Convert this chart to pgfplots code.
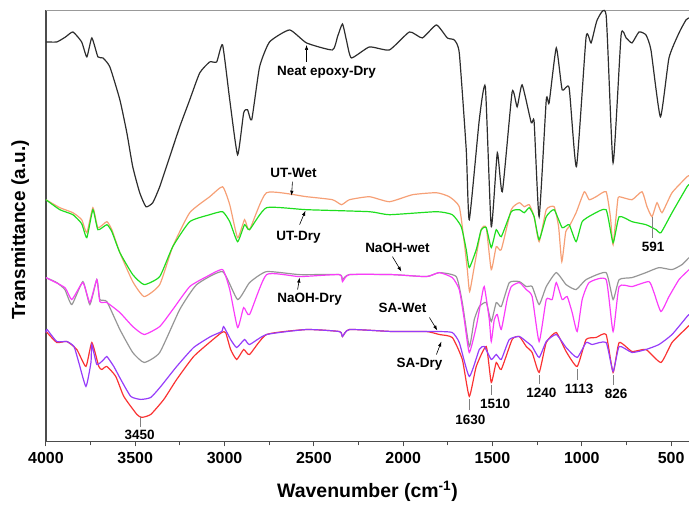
\documentclass[border=0pt]{standalone}
\usepackage{fontspec}
\setmainfont{Liberation Sans}
\usepackage{pgfplots}
\pgfplotsset{compat=1.18}
\usetikzlibrary{arrows.meta}
\definecolor{cblack}{RGB}{45,45,45}
\definecolor{corange}{RGB}{246,160,118}
\definecolor{cgreen}{RGB}{30,222,30}
\definecolor{cgray}{RGB}{150,150,150}
\definecolor{cmag}{RGB}{250,60,250}
\definecolor{cpurple}{RGB}{150,60,250}
\definecolor{cred}{RGB}{250,50,50}
\newcommand{\annot}{\fontsize{13.5}{13.5}\selectfont\bfseries}
\begin{document}
\begin{tikzpicture}[x=1pt,y=1pt]
\path[use as bounding box] (-46,-67) rectangle (644,442);
\begin{axis}[
  at={(0,0)}, anchor=south west,
  scale only axis, width=644pt, height=432pt,
  x dir=reverse, xmin=400, xmax=4000, ymin=0, ymax=432,
  xtick={500,1000,...,4000}, minor x tick num=1,
  ytick=\empty,
  axis x line*=bottom, axis y line*=left,
  axis line style={-, line width=1.3pt, draw=black!70},
  tick align=outside, major tick length=5pt, minor tick length=4pt,
  tick style={line width=1pt, black!70},
  xticklabel style={font=\fontsize{16}{16}\selectfont\bfseries, yshift=-2pt},
  /pgf/number format/set thousands separator={},
  /pgf/number format/assume math mode=true,
  xlabel={Wavenumber (cm\textsuperscript{-1})},
  xlabel style={font=\fontsize{19.5}{20}\selectfont\bfseries, at={(axis description cs:0.5,-0.116)}, anchor=center},
  ylabel={Transmittance (a.u.)},
  ylabel style={font=\fontsize{19}{20}\selectfont\bfseries, at={(axis description cs:-0.04,0.49)}, anchor=center},
  clip=false,
  every axis plot/.append style={line width=1.2pt, smooth, tension=0.3},
]
\draw[black!40, line width=0.8pt] (rel axis cs:0,1) -- (rel axis cs:1,1);
% Neat epoxy-Dry
\addplot[cblack] coordinates {(4000,400)(3939,400)(3890,405)(3849,410)(3800,400)(3771,385)(3743,404)(3709,385)(3681,384)(3642,375)(3586,342)(3547,309)(3514,275)(3475,249)(3440,235)(3402,239)(3363,255)(3307,285)(3251,315)(3195,342)(3139,369)(3083,380)(3044,380)(3011,397)(2971,342)(2927,287)(2893,329)(2871,332)(2848,322)(2804,375)(2748,400)(2636,412)(2541,399)(2396,392)(2368,405)(2340,418)(2318,402)(2290,384)(2189,395)(2077,392)(1965,410)(1893,404)(1814,417)(1753,404)(1714,402)(1686,389)(1647,292)(1630,222)(1574,322)(1540,355)(1507,215)(1473,289)(1445,250)(1390,350)(1362,335)(1334,357)(1283,319)(1267,320)(1239,225)(1199,342)(1183,339)(1143,394)(1110,352)(1071,354)(1030,275)(976,405)(948,399)(914,422)(864,427)(825,279)(780,407)(752,404)(719,399)(680,410)(641,407)(613,392)(560,325)(512,384)(456,409)(417,422)(400,424)};
% UT-Wet
\addplot[corange] coordinates {(4000,242)(3922,234)(3849,229)(3800,222)(3771,209)(3737,234)(3709,214)(3659,220)(3631,212)(3586,189)(3514,160)(3450,145)(3363,157)(3290,195)(3195,229)(3083,245)(3011,255)(2971,237)(2927,204)(2888,222)(2860,212)(2765,249)(2541,245)(2396,242)(2345,237)(2301,242)(2189,245)(2077,240)(1948,247)(1814,249)(1742,245)(1686,235)(1658,199)(1641,172)(1628,150)(1602,175)(1563,212)(1535,214)(1507,172)(1479,195)(1451,192)(1395,232)(1350,239)(1322,235)(1294,237)(1267,225)(1239,200)(1199,232)(1155,235)(1130,215)(1112,180)(1090,210)(1071,215)(1032,229)(986,250)(959,242)(920,245)(864,250)(840,225)(825,197)(800,240)(791,245)(719,242)(663,250)(635,235)(607,225)(579,239)(551,229)(495,249)(411,265)(400,266)};
% UT-Dry
\addplot[cgreen] coordinates {(4000,242)(3922,232)(3849,227)(3800,218)(3771,204)(3737,232)(3709,212)(3659,217)(3631,210)(3586,189)(3514,167)(3450,157)(3363,165)(3290,195)(3195,220)(3083,227)(3011,230)(2971,220)(2927,200)(2888,217)(2860,212)(2765,234)(2541,232)(2189,230)(2077,227)(1814,230)(1725,227)(1675,215)(1647,192)(1630,174)(1591,192)(1563,212)(1535,214)(1507,194)(1479,212)(1451,205)(1395,230)(1350,232)(1322,229)(1294,234)(1267,225)(1239,202)(1199,225)(1155,232)(1110,214)(1071,217)(1032,200)(998,220)(942,227)(864,232)(825,199)(791,225)(719,220)(641,217)(584,212)(557,209)(495,229)(411,255)(400,257)};
% NaOH-wet
\addplot[cgray] coordinates {(4000,164)(3939,159)(3894,152)(3855,137)(3793,160)(3754,137)(3715,162)(3698,142)(3659,140)(3586,112)(3514,89)(3450,79)(3363,89)(3251,132)(3156,157)(3011,170)(2927,142)(2860,159)(2765,170)(2580,167)(2357,167)(2340,162)(2301,167)(2060,167)(1870,165)(1798,169)(1703,165)(1669,139)(1630,95)(1602,122)(1574,135)(1535,139)(1507,120)(1479,139)(1451,135)(1406,159)(1350,160)(1311,155)(1278,155)(1239,137)(1199,155)(1143,169)(1088,157)(1032,152)(976,162)(864,169)(825,142)(791,162)(719,164)(641,169)(568,174)(495,172)(439,177)(411,182)(400,184)};
% NaOH-Dry
\addplot[cmag] coordinates {(4000,164)(3894,154)(3855,142)(3793,159)(3754,139)(3715,162)(3698,140)(3659,139)(3586,129)(3514,115)(3450,107)(3363,115)(3290,132)(3195,155)(3100,165)(3011,172)(2971,152)(2927,114)(2893,134)(2860,127)(2765,167)(2580,165)(2357,167)(2340,160)(2301,167)(2060,167)(1870,165)(1798,169)(1725,164)(1686,152)(1658,122)(1630,89)(1591,115)(1563,142)(1546,155)(1518,122)(1507,100)(1490,122)(1473,127)(1451,112)(1418,142)(1395,155)(1350,159)(1311,152)(1278,145)(1239,100)(1199,142)(1166,142)(1143,159)(1110,142)(1082,145)(1054,129)(1026,110)(998,142)(959,159)(864,162)(825,110)(791,155)(719,155)(624,160)(596,149)(557,130)(512,145)(456,162)(411,170)(400,172)};
% SA-Dry
\addplot[cred] coordinates {(4000,109)(3994,109)(3939,99)(3883,100)(3827,92)(3776,75)(3743,99)(3704,75)(3687,72)(3659,75)(3609,65)(3564,45)(3491,27)(3463,24)(3413,27)(3340,42)(3268,62)(3173,85)(3078,100)(3016,109)(2994,109)(2966,92)(2932,82)(2893,92)(2860,87)(2765,107)(2541,112)(2357,110)(2340,105)(2301,112)(2060,110)(1870,110)(1798,107)(1725,104)(1669,82)(1630,45)(1591,75)(1535,95)(1507,59)(1479,79)(1451,72)(1390,102)(1350,105)(1311,95)(1278,89)(1239,69)(1199,99)(1143,109)(1088,90)(1026,75)(976,102)(920,104)(864,107)(825,69)(791,99)(719,90)(641,92)(557,79)(495,99)(411,114)(400,116)};
% SA-Wet
\addplot[cpurple] coordinates {(4000,109)(3994,112)(3939,100)(3883,100)(3843,95)(3816,79)(3776,55)(3748,79)(3743,97)(3715,77)(3676,82)(3659,85)(3620,75)(3581,62)(3525,45)(3469,42)(3413,44)(3357,55)(3268,75)(3173,94)(3078,105)(3016,110)(3005,115)(2966,102)(2932,94)(2888,102)(2860,97)(2765,107)(2541,112)(2357,110)(2340,105)(2301,112)(2060,110)(1870,110)(1798,110)(1725,109)(1686,99)(1630,65)(1574,92)(1546,95)(1507,82)(1479,87)(1451,82)(1406,102)(1350,105)(1311,100)(1278,95)(1239,84)(1199,100)(1143,107)(1088,94)(1026,84)(976,99)(942,97)(864,99)(825,70)(791,95)(719,89)(641,92)(568,97)(495,107)(411,125)(400,127)};
% annotations
\node[font=\annot] at (axis cs:2429,370) {Neat epoxy-Dry};
\draw[-{Latex[length=5pt,width=3.5pt]}, line width=0.6pt] (axis cs:2541,380) -- (axis cs:2541,397);
\node[font=\annot] at (axis cs:2614,269) {UT-Wet};
\draw[-{Latex[length=5pt,width=3.5pt]}, line width=0.6pt] (axis cs:2620,260) -- (axis cs:2625,246);
\node[font=\annot] at (axis cs:2586,204) {UT-Dry};
\draw[-{Latex[length=5pt,width=3.5pt]}, line width=0.6pt] (axis cs:2580,217) -- (axis cs:2547,231);
\node[font=\annot] at (axis cs:2032,194) {NaOH-wet};
\draw[-{Latex[length=5pt,width=3.5pt]}, line width=0.6pt] (axis cs:2060,185) -- (axis cs:2010,170);
\node[font=\annot] at (axis cs:2524,142) {NaOH-Dry};
\draw[-{Latex[length=5pt,width=3.5pt]}, line width=0.6pt] (axis cs:2591,152) -- (axis cs:2580,164);
\node[font=\annot] at (axis cs:2004,134) {SA-Wet};
\draw[-{Latex[length=5pt,width=3.5pt]}, line width=0.6pt] (axis cs:1853,124) -- (axis cs:1809,111);
\node[font=\annot] at (axis cs:1909,77) {SA-Dry};
\draw[-{Latex[length=5pt,width=3.5pt]}, line width=0.6pt] (axis cs:1814,87) -- (axis cs:1786,100);
\draw[black!50, line width=0.6pt] (axis cs:607,225) -- (axis cs:607,204);
\node[font=\annot] at (axis cs:601,195) {591};
\draw[black!50, line width=0.6pt] (axis cs:3469,24) -- (axis cs:3469,14);
\node[font=\annot] at (axis cs:3475,7) {3450};
\draw[black!50, line width=0.6pt] (axis cs:1630,42) -- (axis cs:1630,31);
\node[font=\annot] at (axis cs:1624,22) {1630};
\draw[black!50, line width=0.6pt] (axis cs:1507,56) -- (axis cs:1507,46);
\node[font=\annot] at (axis cs:1485,38) {1510};
\draw[black!50, line width=0.6pt] (axis cs:1239,66) -- (axis cs:1239,57);
\node[font=\annot] at (axis cs:1227,49) {1240};
\draw[black!50, line width=0.6pt] (axis cs:1026,72) -- (axis cs:1026,61);
\node[font=\annot] at (axis cs:1015,53) {1113};
\draw[black!50, line width=0.6pt] (axis cs:825,66) -- (axis cs:825,56);
\node[font=\annot] at (axis cs:808,48) {826};
\end{axis}
\end{tikzpicture}
\end{document}
